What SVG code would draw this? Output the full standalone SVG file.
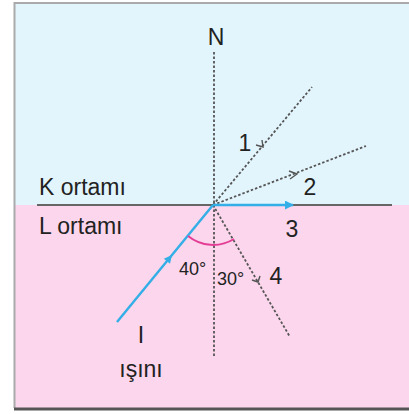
<svg xmlns="http://www.w3.org/2000/svg" width="409" height="414" viewBox="0 0 409 414">
<defs>
<style>
.lbl{font-family:"Liberation Sans",Arial,sans-serif;font-size:23px;fill:#222}
.sm{font-family:"Liberation Sans",Arial,sans-serif;font-size:18px;fill:#222}
.dot{stroke:#555;stroke-width:1.8;stroke-dasharray:2.5 2;fill:none}
.blue{stroke:#33aee6;stroke-width:2.4;fill:none}
.ah{stroke:#555;stroke-width:1.4;fill:none}
</style>
<marker id="ba" viewBox="0 0 10 10" refX="9" refY="5" markerWidth="9" markerHeight="9" markerUnits="userSpaceOnUse" orient="auto">
<path d="M0,0 L10,5 L0,10 z" fill="#33aee6"/>
</marker>
</defs>
<rect width="409" height="414" fill="#ffffff"/>
<rect x="15" y="3" width="400" height="202" fill="#e2f5fc"/>
<rect x="15" y="205" width="400" height="203" fill="#fbd6ec"/>
<path d="M14.5,408 L14.5,3 L409,3" stroke="#aaa" stroke-width="2" fill="none"/>
<line x1="14" y1="409" x2="409" y2="409" stroke="#555" stroke-width="3"/>
<g id="interface"><line x1="37" y1="205" x2="392" y2="205" stroke="#666" stroke-width="2"/></g>
<g id="connectors">
<line class="dot" x1="214" y1="52" x2="214" y2="358"/>
<line class="dot" x1="213" y1="205" x2="312" y2="87"/>
<line class="dot" x1="213" y1="205" x2="366" y2="146"/>
<line class="dot" x1="213" y1="205" x2="290" y2="337"/>
<path class="ah" d="M256,145 L263,147 L262,140"/>
<path class="ah" d="M289,171 L297,174 L290,179"/>
<path class="ah" d="M252,280 L258,282 L260,276"/>
<line class="blue" x1="117" y1="322" x2="213" y2="205"/>
<path d="M172,255 L163.8,258.7 L170,263.7 z" fill="#33aee6"/>
<line class="blue" x1="213" y1="205" x2="293" y2="205" marker-end="url(#ba)"/>
<path d="M188,236 A40,40 0 0 0 234,239" stroke="#e43d96" stroke-width="2" fill="none"/>
</g>
<g id="labels">
<text class="lbl" x="216" y="45" text-anchor="middle">N</text>
<text class="lbl" x="245" y="151" text-anchor="middle">1</text>
<text class="lbl" x="310" y="195" text-anchor="middle">2</text>
<text class="lbl" x="292" y="237" text-anchor="middle">3</text>
<text class="lbl" x="276" y="284" text-anchor="middle">4</text>
<text class="lbl" x="39" y="195">K ortamı</text>
<text class="lbl" x="39" y="234">L ortamı</text>
<text class="sm" x="179" y="275">40°</text>
<text class="sm" x="217" y="285">30°</text>
<text class="lbl" x="141" y="343" text-anchor="middle">I</text>
<text class="lbl" x="141" y="377" text-anchor="middle">ışını</text>
</g>
</svg>
